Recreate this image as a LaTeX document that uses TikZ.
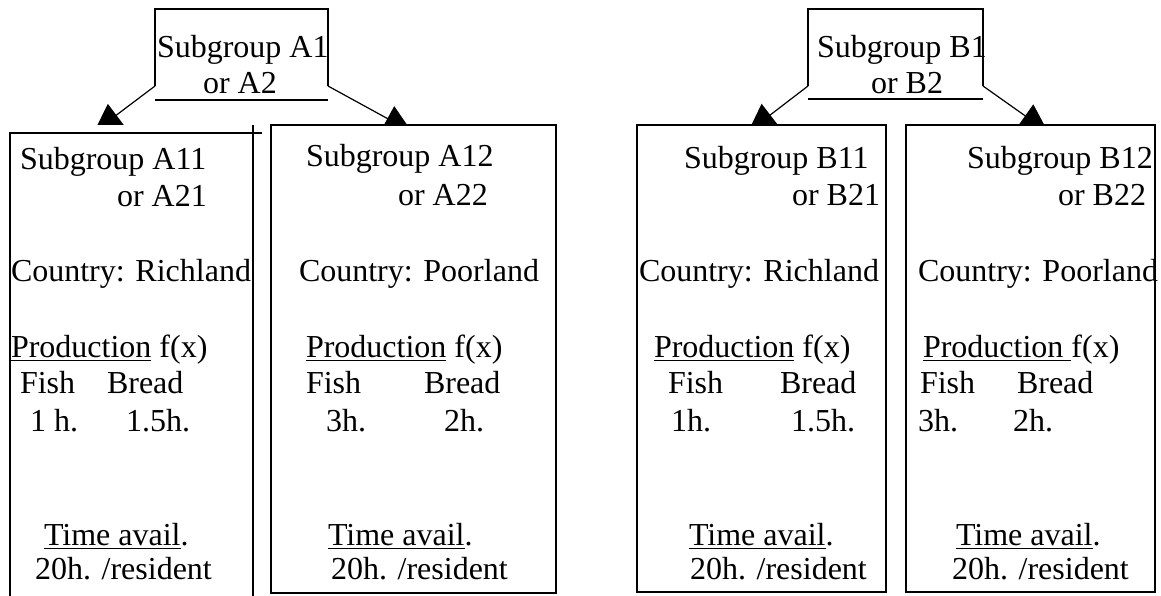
\documentclass[tikz,border=0pt]{standalone}
\usepackage{fontspec}
\setmainfont{Liberation Serif}
\usetikzlibrary{arrows.meta}
\newcommand\myul[1]{\setbox0\hbox{#1}\rlap{\rule[-4pt]{\wd0}{1.2pt}}\box0\relax}
\begin{document}
\begin{tikzpicture}[x=1pt,y=-1pt,
  txt/.style={anchor=base west,inner sep=0pt,outer sep=0pt,font=\fontsize{32}{38}\selectfont},
  boxline/.style={draw=black,line width=1.2pt},
  conn/.style={draw=black,line width=1.2pt,-{Triangle[length=28pt,width=28pt]}}]
\useasboundingbox (0,0) rectangle (1161,596);

% top boxes (structure points)
\coordinate (a1sw) at (155,86); \coordinate (a1nw) at (155,9);
\coordinate (a1ne) at (328,9);  \coordinate (a1se) at (328,86);
\coordinate (a1bl) at (155,100); \coordinate (a1br) at (328,100);
\coordinate (b1sw) at (808,86); \coordinate (b1nw) at (808,9);
\coordinate (b1ne) at (983,9);  \coordinate (b1se) at (983,86);
\coordinate (b1bl) at (808,99); \coordinate (b1br) at (983,99);

\draw[boxline] (a1sw) -- (a1nw) -- (a1ne) -- (a1se);
\draw[boxline] (a1bl) -- (a1br);
\draw[boxline] (b1sw) -- (b1nw) -- (b1ne) -- (b1se);
\draw[boxline] (b1bl) -- (b1br);

% lower boxes
\coordinate (a11bl) at (10,596); \coordinate (a11tl) at (10,133); \coordinate (a11tr) at (262,133);
\coordinate (a11rt) at (253,125); \coordinate (a11rb) at (253,596);
\draw[boxline] (a11bl) -- (a11tl) -- (a11tr);
\draw[boxline] (a11rt) -- (a11rb);
\draw[boxline] (271,125) rectangle (556,593);
\draw[boxline] (637,125) rectangle (886,592);
\draw[boxline] (906,125) rectangle (1155,592);

% arrow tips
\coordinate (ta11) at (94,132);
\coordinate (ta12) at (412,132);
\coordinate (tb11) at (748,132);
\coordinate (tb12) at (1048,132);
\begin{scope}
\clip (0,0) rectangle (1161,125);
\draw[conn] (a1sw) -- (ta11);
\draw[conn] (a1se) -- (ta12);
\draw[conn] (b1sw) -- (tb11);
\draw[conn] (b1se) -- (tb12);
\end{scope}

% texts top
\node[txt] (a1t1) at (157,58) {Subgroup A1};
\node[txt] (a1t2) at (203,94) {or A2};
\node[txt] (b1t1) at (817,58) {Subgroup B1};
\node[txt] (b1t2) at (871,94) {or B2};

% A11
\node[txt] (a11t1) at (20,170) {Subgroup A11};
\node[txt] (a11t2) at (117,207) {or A21};
\node[txt] (a11t3) at (11,281) {Country: Richland};
\node[txt] (a11t4) at (11,357) {\myul{Production} f(x)};
\node[txt] (a11t5) at (20,393) {Fish};
\node[txt] (a11t6) at (107,393) {Bread};
\node[txt] (a11t7) at (30,431) {1 h.};
\node[txt] (a11t8) at (126,431) {1.5h.};
\node[txt] (a11t9) at (44,545) {\myul{Time avail}.};
\node[txt] (a11t10) at (35,579) {20h. /resident};

% A12
\node[txt] (a12t1) at (306,167) {Subgroup A12};
\node[txt] (a12t2) at (398,205) {or A22};
\node[txt] (a12t3) at (299,281) {Country: Poorland};
\node[txt] (a12t4) at (306,357) {\myul{Production} f(x)};
\node[txt] (a12t5) at (306,393) {Fish};
\node[txt] (a12t6) at (424,393) {Bread};
\node[txt] (a12t7) at (326,431) {3h.};
\node[txt] (a12t8) at (444,431) {2h.};
\node[txt] (a12t9) at (328,545) {\myul{Time avail}.};
\node[txt] (a12t10) at (331,579) {20h. /resident};

% B11
\node[txt] (b11t1) at (684,168) {Subgroup B11};
\node[txt] (b11t2) at (792,205) {or B21};
\node[txt] (b11t3) at (639,281) {Country: Richland};
\node[txt] (b11t4) at (654,357) {\myul{Production} f(x)};
\node[txt] (b11t5) at (668,393) {Fish};
\node[txt] (b11t6) at (780,393) {Bread};
\node[txt] (b11t7) at (671,431) {1h.};
\node[txt] (b11t8) at (791,431) {1.5h.};
\node[txt] (b11t9) at (689,545) {\myul{Time avail}.};
\node[txt] (b11t10) at (690,579) {20h. /resident};

% B12
\node[txt] (b12t1) at (967,168) {Subgroup B12};
\node[txt] (b12t2) at (1058,205) {or B22};
\node[txt] (b12t3) at (918,281) {Country: Poorland};
\node[txt] (b12t4) at (923,357) {\myul{Production\ }f(x)};
\node[txt] (b12t5) at (920,393) {Fish};
\node[txt] (b12t6) at (1017,393) {Bread};
\node[txt] (b12t7) at (918,431) {3h.};
\node[txt] (b12t8) at (1013,431) {2h.};
\node[txt] (b12t9) at (956,545) {\myul{Time avail}.};
\node[txt] (b12t10) at (952,579) {20h. /resident};
\end{tikzpicture}
\end{document}
